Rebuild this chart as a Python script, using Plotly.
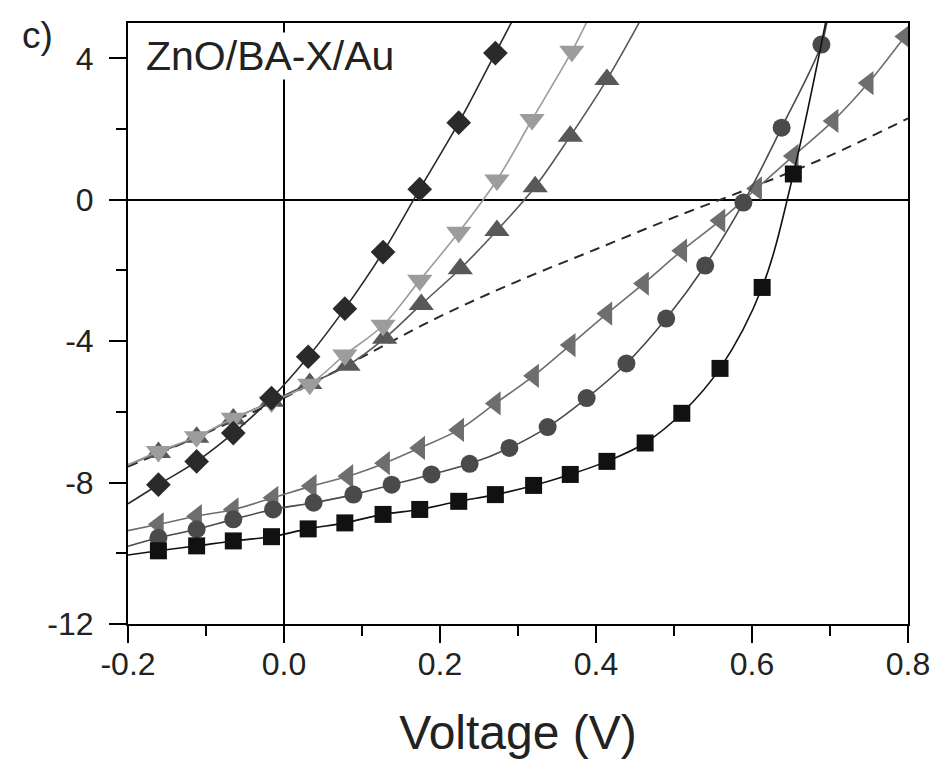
import plotly.graph_objects as go

# ---------------- data ----------------
# squares (black)
sq_v = [-0.161, -0.112, -0.065, -0.016, 0.031, 0.078, 0.127, 0.174, 0.224, 0.271,
        0.320, 0.367, 0.414, 0.463, 0.510, 0.559, 0.613, 0.653]
sq_j = [-9.93, -9.79, -9.65, -9.53, -9.31, -9.14, -8.90, -8.76, -8.53, -8.34,
        -8.08, -7.77, -7.40, -6.88, -6.04, -4.77, -2.48, 0.73]
sq_ends_v = [-0.2, 0.697]
sq_ends_j = [-10.05, 5.3]

# circles (dark grey)
ci_v = [-0.161, -0.112, -0.065, -0.014, 0.038, 0.089, 0.138, 0.189, 0.238, 0.289,
        0.338, 0.388, 0.439, 0.490, 0.540, 0.589, 0.638, 0.689]
ci_j = [-9.56, -9.32, -9.04, -8.76, -8.57, -8.34, -8.06, -7.77, -7.47, -7.02,
        -6.43, -5.61, -4.63, -3.36, -1.86, -0.08, 2.04, 4.39]
ci_ends_v = [-0.2, 0.698]
ci_ends_j = [-9.80, 5.3]

# left-pointing triangles (mid grey)
lt_v = [-0.161, -0.112, -0.065, -0.014, 0.035, 0.082, 0.129, 0.174, 0.224, 0.271,
        0.320, 0.367, 0.414, 0.461, 0.510, 0.559, 0.606, 0.653, 0.704, 0.749, 0.796]
lt_j = [-9.18, -8.95, -8.76, -8.43, -8.10, -7.82, -7.45, -7.02, -6.51, -5.76,
        -4.98, -4.11, -3.22, -2.37, -1.44, -0.59, 0.32, 1.24, 2.23, 3.30, 4.62]
lt_ends_v = [-0.2, 0.812]
lt_ends_j = [-9.36, 5.1]

# diamonds (near black)
di_v = [-0.161, -0.112, -0.065, -0.016, 0.031, 0.078, 0.127, 0.174, 0.224, 0.271]
di_j = [-8.06, -7.40, -6.60, -5.61, -4.44, -3.08, -1.48, 0.30, 2.18, 4.15]
di_ends_v = [-0.2, 0.296]
di_ends_j = [-8.60, 5.2]

# up triangles (grey)
ut_v = [-0.161, -0.112, -0.065, -0.016, 0.033, 0.082, 0.129, 0.176, 0.226, 0.273,
        0.322, 0.367, 0.414]
ut_j = [-7.15, -6.72, -6.20, -5.70, -5.20, -4.68, -3.92, -2.96, -1.95, -0.87,
        0.37, 1.80, 3.40]
ut_ends_v = [-0.2, 0.460]
ut_ends_j = [-7.50, 5.2]

# down triangles (light grey)
dt_v = [-0.161, -0.112, -0.065, -0.016, 0.033, 0.078, 0.127, 0.174, 0.224, 0.273,
        0.318, 0.369]
dt_j = [-7.12, -6.70, -6.18, -5.72, -5.22, -4.39, -3.55, -2.28, -0.92, 0.56,
        2.27, 4.20]
dt_ends_v = [-0.2, 0.392]
dt_ends_j = [-7.50, 5.2]

# dashed reference curve (no markers)
da_v = [-0.2, -0.1, 0.0, 0.1, 0.2, 0.3, 0.4, 0.5, 0.6, 0.7, 0.8]
da_j = [-7.55, -6.60, -5.60, -4.45, -3.30, -2.30, -1.40, -0.50, 0.35, 1.25, 2.30]

x_ticks = [-0.2, 0.0, 0.2, 0.4, 0.6, 0.8]
x_ticktext = ["-0.2", "0.0", "0.2", "0.4", "0.6", "0.8"]
y_ticks = [-12, -8, -4, 0, 4]
y_ticktext = ["-12", "-8", "-4", "0", "4"]

# ---------------- figure ----------------
fig = go.Figure()

fig.add_trace(go.Scatter(x=da_v, y=da_j, mode="lines", line_shape="spline",
                         line=dict(color="#2a2a2a", width=2, dash="10px,7px"),
                         hoverinfo="skip"))

series = [
    (lt_v, lt_j, lt_ends_v, lt_ends_j, "triangle-left", "#6e6e6e", 21),
    (ci_v, ci_j, ci_ends_v, ci_ends_j, "circle", "#4a4a4a", 18),
    (sq_v, sq_j, sq_ends_v, sq_ends_j, "square", "#111111", 17),
    (ut_v, ut_j, ut_ends_v, ut_ends_j, "triangle-up", "#585858", 22),
    (dt_v, dt_j, dt_ends_v, dt_ends_j, "triangle-down", "#9c9c9c", 22),
    (di_v, di_j, di_ends_v, di_ends_j, "diamond", "#2a2a2a", 19),
]

for v, j, ev, ej, sym, col, sz in series:
    lv = [ev[0]] + v + [ev[1]]
    lj = [ej[0]] + j + [ej[1]]
    fig.add_trace(go.Scatter(x=lv, y=lj, mode="lines", line_shape="spline",
                             line=dict(color=col, width=1.6), hoverinfo="skip"))
    fig.add_trace(go.Scatter(x=v, y=j, mode="markers",
                             marker=dict(symbol=sym, size=sz, color=col,
                                         line=dict(width=0))))

axis_common = dict(
    showline=True, linewidth=2, linecolor="black", mirror=True,
    ticks="outside", ticklen=17, tickwidth=2, tickcolor="black",
    showgrid=False, zeroline=True, zerolinecolor="black", zerolinewidth=2,
    tickfont=dict(size=32, color="#222"), automargin=False,
)

fig.update_xaxes(range=[-0.2, 0.8], tickvals=x_ticks, ticktext=x_ticktext,
                 minor=dict(dtick=0.1, tick0=-0.2, ticks="outside", ticklen=10,
                            tickwidth=2, tickcolor="black", showgrid=False),
                 ticklabelstandoff=-6,
                 title=dict(text="Voltage (V)", font=dict(size=48, color="#222"),
                            standoff=34),
                 **axis_common)
fig.update_yaxes(range=[-12, 5], tickvals=y_ticks, ticktext=y_ticktext,
                 minor=dict(dtick=2, tick0=0, ticks="outside", ticklen=10,
                            tickwidth=2, tickcolor="black", showgrid=False),
                 ticklabelstandoff=9,
                 **axis_common)

fig.add_annotation(text="ZnO/BA-X/Au", xref="paper", yref="paper",
                   x=0.022, y=0.945, xanchor="left", yanchor="middle",
                   showarrow=False, bgcolor="white", borderpad=0,
                   font=dict(size=41, color="#222"))
fig.add_annotation(text="c)", xref="paper", yref="paper",
                   x=-0.139, y=0.98, xanchor="left", yanchor="middle",
                   showarrow=False, font=dict(size=37, color="#222"))

# the page body adds an 8 px offset, so the figure is 8 px smaller each way
fig.update_layout(width=930, height=758,
                  margin=dict(l=120, r=30, t=15, b=142),
                  plot_bgcolor="white", paper_bgcolor="white",
                  showlegend=False,
                  font=dict(family="Liberation Sans, Arial, sans-serif"))

fig.write_html("out.html")
